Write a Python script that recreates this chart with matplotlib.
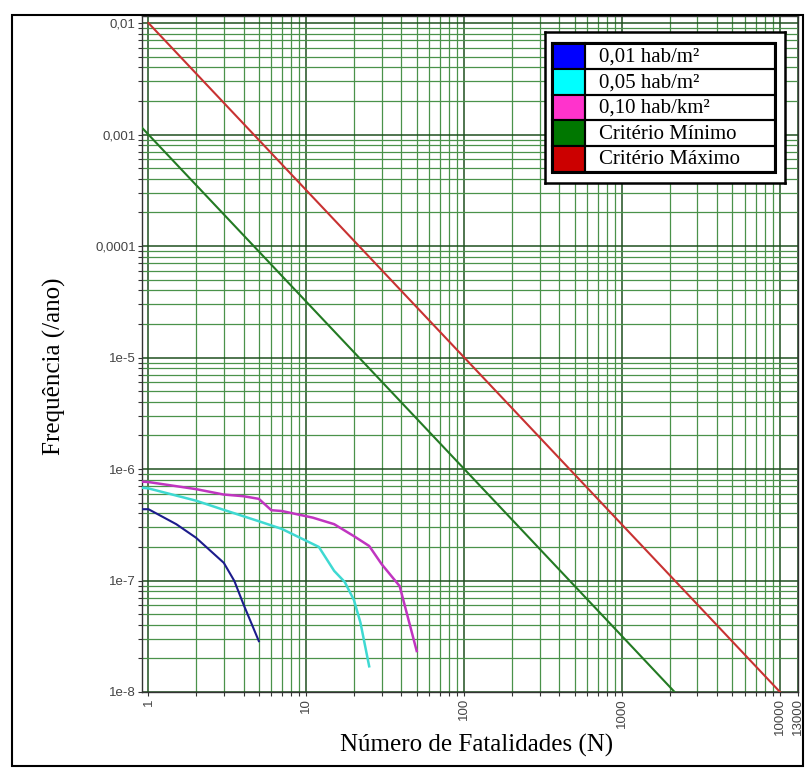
import matplotlib
matplotlib.use("Agg")
import matplotlib.pyplot as plt
from matplotlib.patches import Rectangle
from matplotlib.ticker import FixedLocator, NullFormatter, LogLocator

# ---------------- data ----------------
N_blue = [0.91, 1, 1.5, 2, 3, 3.5, 4, 5]
F_blue = [4.36e-7, 4.36e-7, 3.2e-7, 2.42e-7, 1.44e-7, 9.9e-8, 6.1e-8, 2.86e-8]

N_cyan = [0.91, 1, 2, 3, 5, 7, 12, 15, 17.5, 20, 22, 25]
F_cyan = [6.8e-7, 6.7e-7, 5.2e-7, 4.3e-7, 3.4e-7, 2.9e-7, 2.0e-7, 1.22e-7,
          9.7e-8, 6.7e-8, 4.2e-8, 1.7e-8]

N_mag = [0.91, 1, 2, 3, 4, 5, 6, 7, 11, 15, 20, 25, 30, 39, 50]
F_mag = [7.7e-7, 7.64e-7, 6.6e-7, 5.9e-7, 5.7e-7, 5.4e-7, 4.27e-7, 4.2e-7,
         3.66e-7, 3.2e-7, 2.5e-7, 2.04e-7, 1.4e-7, 8.9e-8, 2.33e-8]

N_min = [0.91, 10, 100, 1000, 2150]
F_min = [1.15e-3, 3.16e-5, 1e-6, 3.16e-8, 1e-8]

N_max = [1, 10, 100, 1000, 10000]
F_max = [1e-2, 3.16e-4, 1e-5, 3.16e-7, 1e-8]

legend_labels = ["0,01 hab/m²", "0,05 hab/m²", "0,10 hab/km²",
                 "Critério Mínimo", "Critério Máximo"]
legend_colors = ["#0000ff", "#00ffff", "#ff33cc", "#007700", "#cc0000"]

xtick_vals = [1, 10, 100, 1000, 10000, 13000]
xtick_labels = ["1", "10", "100", "1000", "10000", "13000"]
ytick_vals = [1e-2, 1e-3, 1e-4, 1e-5, 1e-6, 1e-7, 1e-8]
ytick_labels = ["0,01", "0,001", "0,0001", "1e-5", "1e-6", "1e-7", "1e-8"]

# ---------------- figure ----------------
W, H = 809, 772
fig = plt.figure(figsize=(W / 100, H / 100), dpi=100)
fig.patch.set_facecolor("white")

def px_axes(x0, y0, x1, y1):
    return fig.add_axes([x0 / W, 1 - y1 / H, (x1 - x0) / W, (y1 - y0) / H])

ax = px_axes(142, 16, 798, 692)
ax.set_xscale("log")
ax.set_yscale("log")
ax.set_xlim(0.91, 13000)
ax.set_ylim(1e-8, 0.01156)

ax.plot(N_blue, F_blue, color="#1c1c8c", lw=1.5, zorder=3)
ax.plot(N_cyan, F_cyan, color="#3fd9d2", lw=1.8, zorder=3)
ax.plot(N_mag, F_mag, color="#c035c0", lw=1.8, zorder=3)
ax.plot(N_min, F_min, color="#237a23", lw=1.5, zorder=3)
ax.plot(N_max, F_max, color="#c83232", lw=1.5, zorder=3)

ax.xaxis.set_major_locator(FixedLocator(xtick_vals))
ax.set_xticklabels(xtick_labels, rotation=90)
ax.xaxis.set_minor_locator(LogLocator(base=10, subs=range(2, 10), numticks=20))
ax.xaxis.set_minor_formatter(NullFormatter())
ax.yaxis.set_major_locator(FixedLocator(ytick_vals))
ax.set_yticklabels(ytick_labels)
ax.yaxis.set_minor_locator(LogLocator(base=10, subs=range(2, 10), numticks=20))
ax.yaxis.set_minor_formatter(NullFormatter())

ax.grid(True, which="major", color="#1f4f1f", lw=1.1)
ax.grid(True, which="minor", color="#4a924a", lw=0.9)
ax.set_axisbelow(True)

for lab in ax.get_xticklabels() + ax.get_yticklabels():
    lab.set_family("Liberation Sans")
    lab.set_fontsize(9.5)
    lab.set_color("#444444")
ax.tick_params(which="both", direction="out", length=3, width=0.8, pad=1.5,
               color="#333333")
for s in ax.spines.values():
    s.set_color("#333333")
    s.set_linewidth(1.0)

fig.text(477 / W, 1 - 745 / H, "Número de Fatalidades (N)", ha="center",
         va="center", family="Liberation Serif", fontsize=18)
fig.text(54 / W, 1 - 366 / H, "Frequência (/ano)", ha="center", va="center",
         rotation=90, family="Liberation Serif", fontsize=18)

# outer frame
fig.patches.append(Rectangle((12 / W, 1 - 766 / H), (803 - 12) / W,
                             (766 - 15) / H, transform=fig.transFigure,
                             fill=False, ec="black", lw=1.5))

# ---------------- legend ----------------
lax = px_axes(545, 32, 785, 183)
lax.set_xlim(545, 785)
lax.set_ylim(183, 32)
lax.set_xticks([])
lax.set_yticks([])
lax.set_facecolor("white")
for s in lax.spines.values():
    s.set_linewidth(1.8)
    s.set_color("black")

tx0, tx1, ty0, ty1 = 552, 775, 43.3, 171.7
rh = (ty1 - ty0) / len(legend_labels)
for i, (lab, col) in enumerate(zip(legend_labels, legend_colors)):
    y = ty0 + i * rh
    lax.add_patch(Rectangle((tx0, y), 33, rh, fc=col, ec="black", lw=1.5))
    lax.add_patch(Rectangle((tx0 + 33, y), tx1 - tx0 - 33, rh, fc="none",
                            ec="black", lw=1.5))
    lax.text(599, y + rh / 2 + 1, lab, ha="left", va="center",
             family="Liberation Serif", fontsize=15)
lax.add_patch(Rectangle((tx0, ty0), tx1 - tx0, ty1 - ty0, fc="none",
                        ec="black", lw=2.2))

fig.savefig("out.png", dpi=100, facecolor="white")
